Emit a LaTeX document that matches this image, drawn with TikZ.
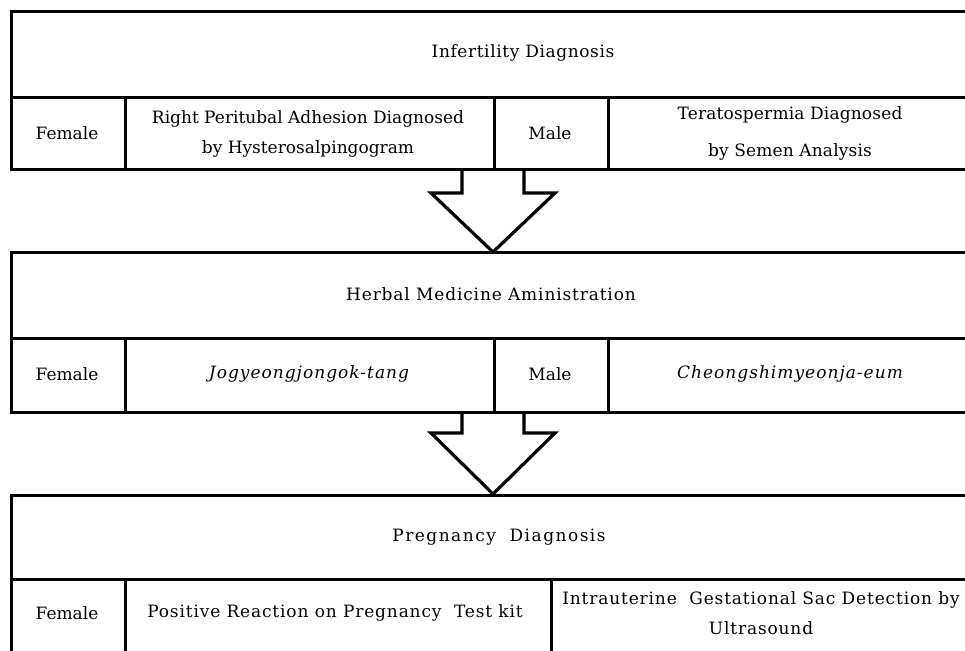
\documentclass[tikz,border=0pt]{standalone}
\usepackage{fontspec}
\setmainfont{DejaVu Serif}
\newfontfamily\lsA{DejaVu Serif}
\newfontfamily\lsB[LetterSpace=1]{DejaVu Serif}
\newfontfamily\lsC[LetterSpace=3.5]{DejaVu Serif}
\newfontfamily\lsD[LetterSpace=5]{DejaVu Serif}
\newfontfamily\lsE[LetterSpace=6]{DejaVu Serif}
\newfontfamily\lsF[LetterSpace=8.7]{DejaVu Serif}
\usetikzlibrary{calc}
\begin{document}
\begin{tikzpicture}[x=1pt,y=-1pt]
\tikzset{
  cell/.style={draw, line width=3.4pt, rectangle, inner sep=0pt, anchor=north west},
  lbl/.style={inner sep=0pt, align=center, font=\fontsize{17}{30}\selectfont},
  blockarrow/.style={draw, line width=3.2pt, line join=miter}
}
\useasboundingbox (0,0) rectangle (965,650);
\clip (0,0) rectangle (965,650);
% block 1
\node[cell, minimum width=1060pt, minimum height=86pt] (b1top) at (10,10) {};
\node[cell, minimum width=114pt, minimum height=72pt] (b1f) at (10,96) {};
\node[cell, minimum width=369pt, minimum height=72pt] (b1fc) at (124,96) {};
\node[cell, minimum width=114pt, minimum height=72pt] (b1m) at (493,96) {};
\node[cell, minimum width=460pt, minimum height=72pt] (b1mc) at (607,96) {};
% block 2
\node[cell, minimum width=1060pt, minimum height=86pt] (b2top) at (10,251) {};
\node[cell, minimum width=114pt, minimum height=74pt] (b2f) at (10,337) {};
\node[cell, minimum width=369pt, minimum height=74pt] (b2fc) at (124,337) {};
\node[cell, minimum width=114pt, minimum height=74pt] (b2m) at (493,337) {};
\node[cell, minimum width=460pt, minimum height=74pt] (b2mc) at (607,337) {};
% block 3
\node[cell, minimum width=1060pt, minimum height=84pt] (b3top) at (10,494) {};
\node[cell, minimum width=114pt, minimum height=90pt] (b3f) at (10,578) {};
\node[cell, minimum width=426pt, minimum height=90pt] (b3fc) at (124,578) {};
\node[cell, minimum width=520pt, minimum height=90pt] (b3mc) at (550,578) {};
% arrows
\coordinate (a1s) at (493,168);
\coordinate (a1t) at (493,252);
\draw[blockarrow] ($(a1s)+(-31,0)$) -- ++(0,25) -- ++(-31,0) -- (a1t) -- ($(a1s)+(62,25)$) -- ++(-31,0) -- ++(0,-25);
\coordinate (a2s) at (493,411);
\coordinate (a2t) at (493,494);
\draw[blockarrow] ($(a2s)+(-31,0)$) -- ++(0,22) -- ++(-31,0) -- (a2t) -- ($(a2s)+(62,22)$) -- ++(-31,0) -- ++(0,-22);
% texts
\node[lbl] (t1) at (523,53) {\lsC Infertility Diagnosis};
\node[lbl] (t1f) at (67,133) {\lsA Female};
\node[lbl] (t1fc) at (308,134) {\lsA Right Peritubal Adhesion Diagnosed\\\lsA by Hysterosalpingogram};
\node[lbl] (t1m) at (550,133) {\lsA Male};
\node[lbl, font=\fontsize{17}{37}\selectfont] (t1mc) at (790,133) {\lsB Teratospermia Diagnosed\\\lsB by Semen Analysis};
\node[lbl] (t2) at (491,294) {\lsD Herbal Medicine Aministration};
\node[lbl] (t2f) at (67,374) {\lsA Female};
\node[lbl] (t2fc) at (309,374) {\lsE\itshape Jogyeongjongok-tang};
\node[lbl] (t2m) at (550,374) {\lsA Male};
\node[lbl] (t2mc) at (790,374) {\lsE\itshape Cheongshimyeonja-eum};
\node[lbl] (t3) at (499,537) {\lsF Pregnancy\ \ Diagnosis};
\node[lbl] (t3f) at (67,613) {\lsA Female};
\node[lbl] (t3fc) at (335,613) {\lsD Positive Reaction on Pregnancy\ \ Test kit};
\node[lbl] (t3mc) at (761,613) {\lsD Intrauterine\ \ Gestational Sac Detection by\\\lsD Ultrasound};
\end{tikzpicture}
\end{document}
